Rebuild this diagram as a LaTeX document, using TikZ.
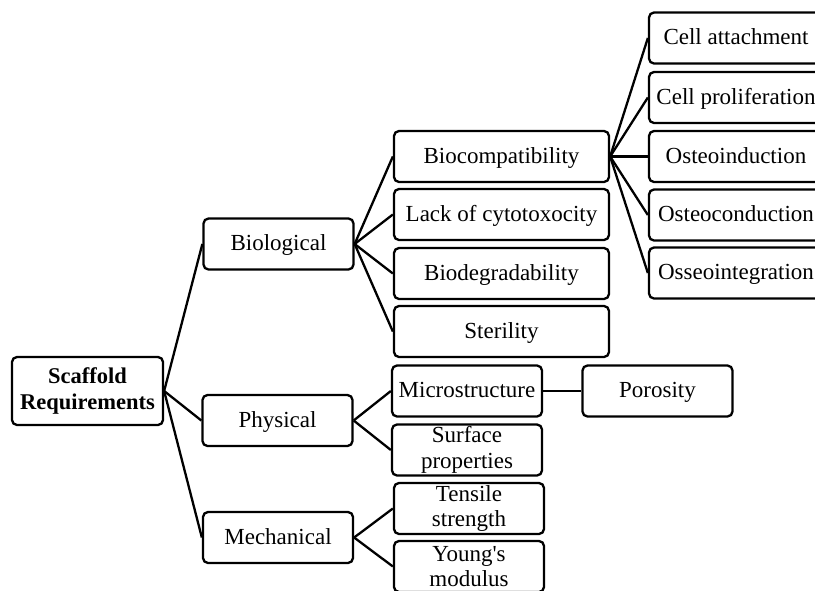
\documentclass[tikz,border=0pt]{standalone}
\usepackage{fontspec}
\setmainfont{Liberation Serif}[Ligatures=TeXOff]
\begin{document}
\begin{tikzpicture}[x=1pt,y=-1pt,
  box/.style={draw, rounded corners=5pt, line width=2.3pt, minimum height=51pt,
    align=center, inner sep=1pt, font=\fontsize{23}{25.5}\selectfont},
  sl/.style={text height=17pt, text depth=4pt},
  w1/.style={box, minimum width=150pt},
  w2/.style={box, sl, minimum width=215pt},
  w3/.style={box, sl, minimum width=174pt},
  link/.style={line width=2.3pt}]
\useasboundingbox (0,0) rectangle (815,590);
\clip (0,0) rectangle (815,590);
\node[box, minimum width=151pt, minimum height=68pt, font=\fontsize{22.5}{26}\selectfont\bfseries] (S) at (87.5,391) {Scaffold\\Requirements};
\node[w1,sl] (bio) at (278.5,244) {Biological};
\node[w1,sl] (phy) at (277.5,420.5) {Physical};
\node[w1,sl] (mech) at (278,537.5) {Mechanical};
\node[w2] (bc) at (501.5,156.5) {Biocompatibility};
\node[w2] (lc) at (501.5,214.5) {Lack of cytotoxocity};
\node[w2] (bd) at (501.5,273.5) {Biodegradability};
\node[w2] (st) at (501.5,331.5) {Sterility};
\node[w1,sl] (ms) at (467,391) {Microstructure};
\node[w1] (sp) at (467,450) {Surface\\properties};
\node[w1] (ts) at (469,508.5) {Tensile\\strength};
\node[w1] (ym) at (469,566.5) {Young's\\modulus};
\node[w1,sl] (po) at (657.5,391) {Porosity};
\node[w3] (ca) at (736,38) {Cell attachment};
\node[w3] (cp) at (736,97.5) {Cell proliferation};
\node[w3] (oi) at (736,156.5) {Osteoinduction};
\node[w3] (oc) at (736,215) {Osteoconduction};
\node[w3] (og) at (736,273) {Osseointegration};
\foreach \c in {bio,phy,mech} \draw[link] (S.east) -- (\c.west);
\foreach \c in {bc,lc,bd,st} \draw[link] (bio.east) -- (\c.west);
\foreach \c in {ms,sp} \draw[link] (phy.east) -- (\c.west);
\foreach \c in {ts,ym} \draw[link] (mech.east) -- (\c.west);
\foreach \c in {ca,cp,oi,oc,og} \draw[link] (bc.east) -- (\c.west);
\draw[link] (ms.east) -- (po.west);
\end{tikzpicture}
\end{document}
